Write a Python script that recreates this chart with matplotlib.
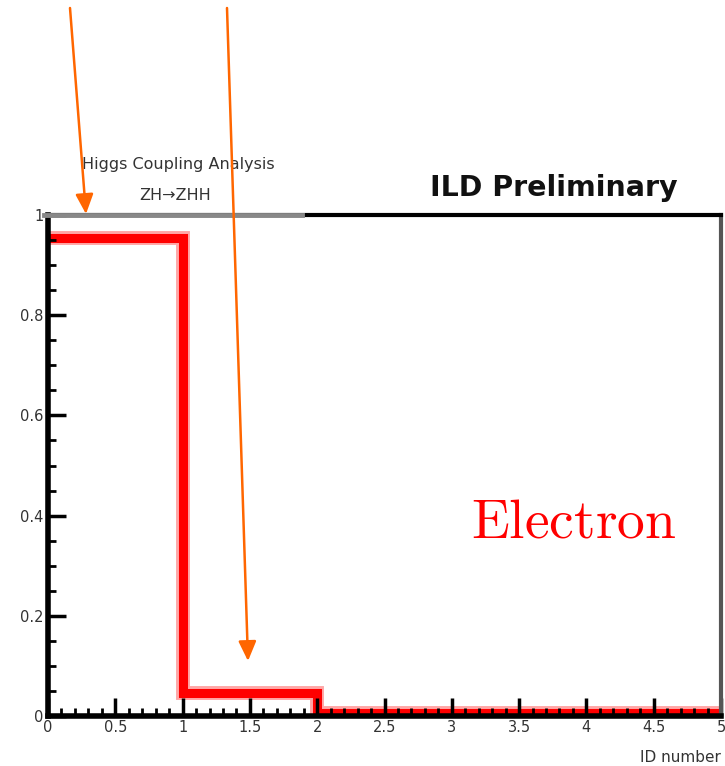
import matplotlib
matplotlib.use("Agg")
import matplotlib.pyplot as plt
from matplotlib.ticker import MultipleLocator, FixedLocator

edges = [0, 1, 2, 3, 4, 5]
values = [0.955, 0.045, 0.006, 0.006, 0.006]
xticks = [0, 0.5, 1, 1.5, 2, 2.5, 3, 3.5, 4, 4.5, 5]
xticklabels = ["0", "0.5", "1", "1.5", "2", "2.5", "3", "3.5", "4", "4.5", "5"]
yticks = [0, 0.2, 0.4, 0.6, 0.8, 1]
yticklabels = ["0", "0.2", "0.4", "0.6", "0.8", "1"]

plt.rcParams["mathtext.fontset"] = "cm"

W, H = 725, 766
fig = plt.figure(figsize=(W / 100, H / 100), dpi=100)
ax = fig.add_axes([48 / W, (H - 716) / H, (721 - 48) / W, (716 - 215) / H])

ax.stairs(values, edges, color="#ff8080", linewidth=10, alpha=0.7, baseline=None)
ax.stairs(values, edges, color="#ff0000", linewidth=6.5, baseline=None)

ax.set_xlim(0, 5)
ax.set_ylim(0, 1.0)
ax.xaxis.set_major_locator(FixedLocator(xticks))
ax.set_xticklabels(xticklabels)
ax.yaxis.set_major_locator(FixedLocator(yticks))
ax.set_yticklabels(yticklabels)
ax.xaxis.set_minor_locator(MultipleLocator(0.1))
ax.yaxis.set_minor_locator(MultipleLocator(0.05))
ax.tick_params(which="both", direction="in", top=False, right=False,
               labelsize=10.5, labelcolor="#333333", color="black")
ax.tick_params(which="major", length=13, width=2.5, pad=3)
ax.tick_params(which="minor", length=6, width=2)

ax.spines["left"].set_linewidth(4)
ax.spines["bottom"].set_linewidth(4)
ax.spines["top"].set_linewidth(3)
ax.spines["right"].set_linewidth(3)
ax.spines["right"].set_color("#555555")
ax.spines["top"].set_color("black")
for s in ax.spines.values():
    s.set_zorder(3)

# grey overlay on the top-left part of the frame
fig.add_artist(plt.Line2D([44 / W, 302 / W], [(H - 215) / H, (H - 215) / H],
                          color="#888888", linewidth=3.5, zorder=5))

ax.set_xlabel("ID number", fontsize=11, color="#333333", loc="right")
ax.xaxis.set_label_coords(1.0, -0.068)

fig.text(554 / W, (H - 188) / H, "ILD Preliminary", fontsize=20.5, fontweight="bold",
         ha="center", va="center", color="#111111")
fig.text(178 / W, (H - 165) / H, "Higgs Coupling Analysis", fontsize=11.5,
         ha="center", va="center", color="#333333")
fig.text(175 / W, (H - 196) / H, "ZH\u2192ZHH", fontsize=11.5,
         ha="center", va="center", color="#333333")

ax.text((574 - 48) / (721 - 48), (716 - 522) / (716 - 215), r"$\mathrm{Electron}$",
        transform=ax.transAxes, fontsize=40,
        color="#ff0000", ha="center", va="center")

for (x0, y0, x1, y1) in [(70, 8, 86, 214), (227, 8, 248, 661)]:
    fig.add_artist(matplotlib.patches.FancyArrowPatch(
        (x0 / W, (H - y0) / H), (x1 / W, (H - y1) / H),
        transform=fig.transFigure, arrowstyle="-|>,head_length=1.0,head_width=0.45",
        color="#ff6600", linewidth=1.8, mutation_scale=12, shrinkA=0, shrinkB=0,
        zorder=10))

fig.savefig("out.png", dpi=100)
